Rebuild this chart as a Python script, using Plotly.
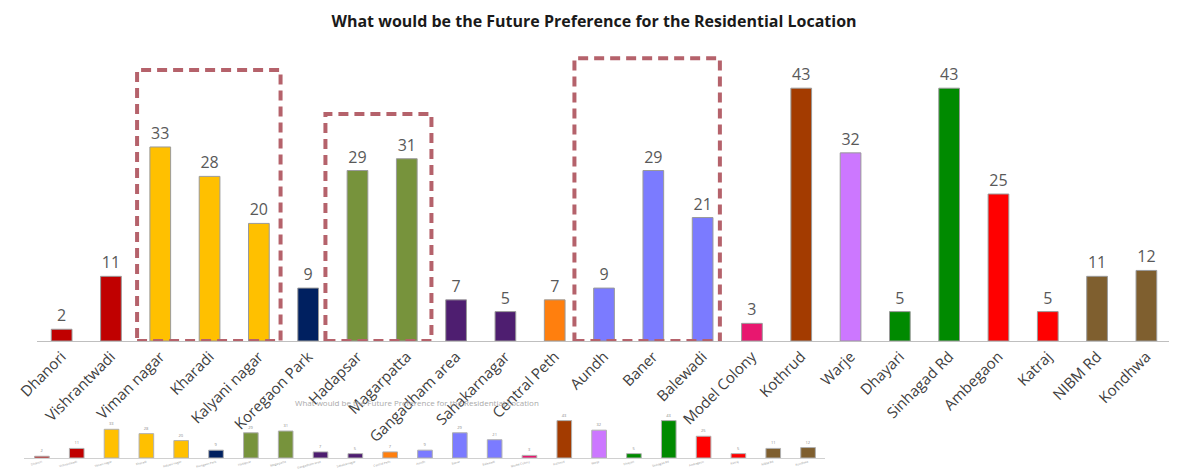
import plotly.graph_objects as go

categories = ["Dhanori", "Vishrantwadi", "Viman nagar", "Kharadi", "Kalyani nagar",
              "Koregaon Park", "Hadapsar", "Magarpatta", "Gangadham area", "Sahakarnagar",
              "Central Peth", "Aundh", "Baner", "Balewadi", "Model Colony", "Kothrud",
              "Warje", "Dhayari", "Sinhagad Rd", "Ambegaon", "Katraj", "NIBM Rd", "Kondhwa"]
values = [2, 11, 33, 28, 20, 9, 29, 31, 7, 5, 7, 9, 29, 21, 3, 43, 32, 5, 43, 25, 5, 11, 12]
colors = ["#C00000", "#C00000", "#FFC000", "#FFC000", "#FFC000", "#002060", "#77933C",
          "#77933C", "#4E1E70", "#4E1E70", "#FF7F0E", "#7B7BFF", "#7B7BFF", "#7B7BFF",
          "#E8176F", "#A33B00", "#CC77FF", "#008A00", "#008A00", "#FF0000", "#FF0000",
          "#7F5F2F", "#7F5F2F"]
title_text = "What would be the Future Preference for the Residential Location"

FONT = "Open Sans"
TXT = "#404040"

fig = go.Figure()
fig.add_trace(go.Bar(
    x=categories, y=values, marker=dict(color=colors, line=dict(color="#9a9a9a", width=1)),
    text=values, textposition="outside", cliponaxis=False,
    textfont=dict(family=FONT, size=16, color="#595959"),
    xaxis="x", yaxis="y", showlegend=False, hoverinfo="x+y"))

# miniature copy
fig.add_trace(go.Bar(
    x=categories, y=values, marker=dict(color=colors, line=dict(color="#b0b0b0", width=1)),
    text=values, textposition="outside", cliponaxis=False,
    textfont=dict(family=FONT, size=4, color="#888888"),
    xaxis="x2", yaxis="y2", showlegend=False, hoverinfo="x+y"))

fig.update_layout(
    width=1169, height=464,
    margin=dict(l=0, r=0, t=0, b=0, autoexpand=False),
    paper_bgcolor="white", plot_bgcolor="rgba(0,0,0,0)",
    bargap=0.58,
    title=dict(text="<b>" + title_text + "</b>", x=0.5013, xanchor="center", y=0.972, yanchor="middle",
               font=dict(family=FONT, size=16, color="#1a1a1a")),
    xaxis=dict(domain=[0.0248, 0.9949], range=[-0.5, 22.5], type="category", automargin=False,
               showline=True, linecolor="#BFBFBF", linewidth=1, ticks="", showgrid=False,
               tickangle=-45, tickfont=dict(family=FONT, size=15, color=TXT), anchor="y"),
    yaxis=dict(domain=[0.2823, 0.9159], range=[0, 50], visible=False, showgrid=False,
               automargin=False, anchor="x"),
    xaxis2=dict(domain=[0.0141, 0.6993], range=[-0.5, 22.5], type="category", automargin=False,
                showline=True, linecolor="#D0D0D0", linewidth=1, ticks="", showgrid=False,
                tickangle=-15, tickfont=dict(family=FONT, size=3, color="#999999"), anchor="y2"),
    yaxis2=dict(domain=[0.0302, 0.1239], range=[0, 50], visible=False, showgrid=False,
                automargin=False, anchor="x2"),
    annotations=[dict(text=title_text, xref="paper", yref="paper", x=0.35, y=0.1336,
                      showarrow=False, font=dict(family=FONT, size=8, color="#aaaaaa"))],
)

box_color = "#B5626B"
boxes = [(1.53, 4.44, 46.1), (5.35, 7.5, 38.6), (10.4, 13.35, 48.1)]
for x0, x1, y1 in boxes:
    fig.add_shape(type="rect", xref="x", yref="y", x0=x0, x1=x1, y0=0, y1=y1,
                  line=dict(color=box_color, width=4, dash="10px,6px"), fillcolor="rgba(0,0,0,0)")

fig.write_html("out.html")
